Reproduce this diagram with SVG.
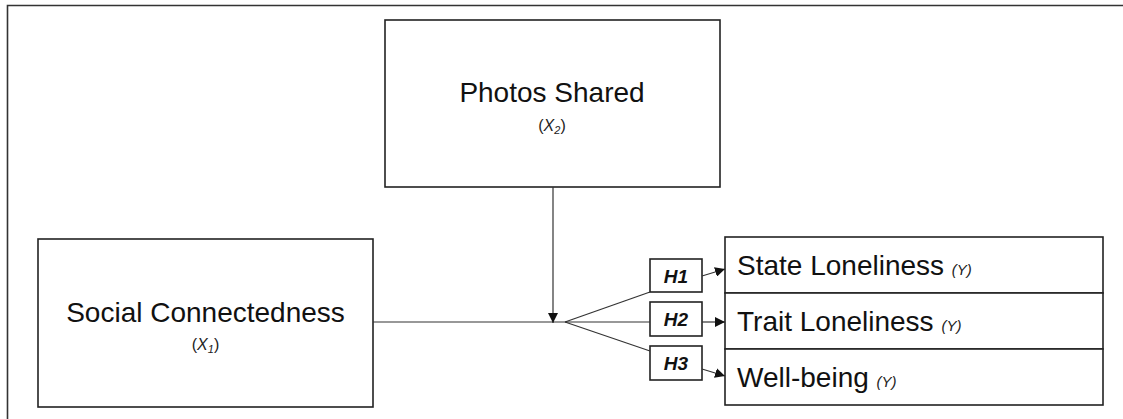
<svg xmlns="http://www.w3.org/2000/svg" width="1123" height="419" viewBox="0 0 1123 419">
<style>
.box{fill:#fff;stroke:#222;stroke-width:1.6}
.frame{fill:none;stroke:#333;stroke-width:1.6}
.big{font-family:"Liberation Sans",Arial,sans-serif;font-size:28px;fill:#111}
.var{font-family:"Liberation Sans",Arial,sans-serif;font-size:16px;fill:#222}
.sm{font-family:"Liberation Sans",Arial,sans-serif;font-size:15px;font-style:italic;fill:#222}
.h{font-family:"Liberation Sans",Arial,sans-serif;font-size:19px;font-weight:bold;font-style:italic;fill:#111}
.ln{fill:none;stroke:#333;stroke-width:1.2}
</style>
<defs>
<marker id="arr" viewBox="0 0 10 10" refX="10" refY="5" markerWidth="10" markerHeight="10" markerUnits="userSpaceOnUse" orient="auto">
<path d="M0,0 L10,5 L0,10 Z" fill="#111"/>
</marker>
</defs>
<path class="frame" d="M7.5,419 V5.5 H1123"/>
<g id="photos">
<rect class="box" x="385" y="20" width="335" height="167"/>
<text class="big" x="552" y="102" text-anchor="middle">Photos Shared</text>
<text class="var" x="552" y="131" text-anchor="middle">(<tspan font-style="italic">X</tspan><tspan font-size="11" font-style="italic" dy="3">2</tspan><tspan dy="-3">)</tspan></text>
</g>
<g id="social">
<rect class="box" x="38" y="239" width="335" height="168"/>
<text class="big" x="205.5" y="322" text-anchor="middle">Social Connectedness</text>
<text class="var" x="205.5" y="350" text-anchor="middle">(<tspan font-style="italic">X</tspan><tspan font-size="11" font-style="italic" dy="3">1</tspan><tspan dy="-3">)</tspan></text>
</g>
<g id="outcomes">
<rect class="box" x="725" y="237" width="378" height="56"/>
<rect class="box" x="725" y="293" width="378" height="56"/>
<rect class="box" x="725" y="349" width="378" height="56"/>
<text class="big" x="737" y="275">State Loneliness <tspan class="sm">(Y)</tspan></text>
<text class="big" x="737" y="331">Trait Loneliness <tspan class="sm">(Y)</tspan></text>
<text class="big" x="737" y="387">Well-being <tspan class="sm">(Y)</tspan></text>
</g>
<g id="h1">
<rect class="box" x="650" y="259" width="52" height="33"/>
<text class="h" x="676" y="282.5" text-anchor="middle">H1</text>
</g>
<g id="h2">
<rect class="box" x="650" y="302" width="52" height="34"/>
<text class="h" x="676" y="326" text-anchor="middle">H2</text>
</g>
<g id="h3">
<rect class="box" x="650" y="346" width="52" height="34"/>
<text class="h" x="676" y="370" text-anchor="middle">H3</text>
</g>
<g id="connectors">
<line class="ln" x1="373" y1="322" x2="565" y2="322"/>
<line class="ln" x1="553" y1="187" x2="553" y2="323" marker-end="url(#arr)"/>
<line class="ln" x1="565" y1="322" x2="650" y2="292"/>
<line class="ln" x1="565" y1="322" x2="650" y2="322"/>
<line class="ln" x1="565" y1="322" x2="650" y2="351"/>
<line class="ln" x1="702" y1="276" x2="725" y2="269" marker-end="url(#arr)"/>
<line class="ln" x1="702" y1="322" x2="725" y2="322" marker-end="url(#arr)"/>
<line class="ln" x1="702" y1="369" x2="725" y2="376" marker-end="url(#arr)"/>
</g>
</svg>
